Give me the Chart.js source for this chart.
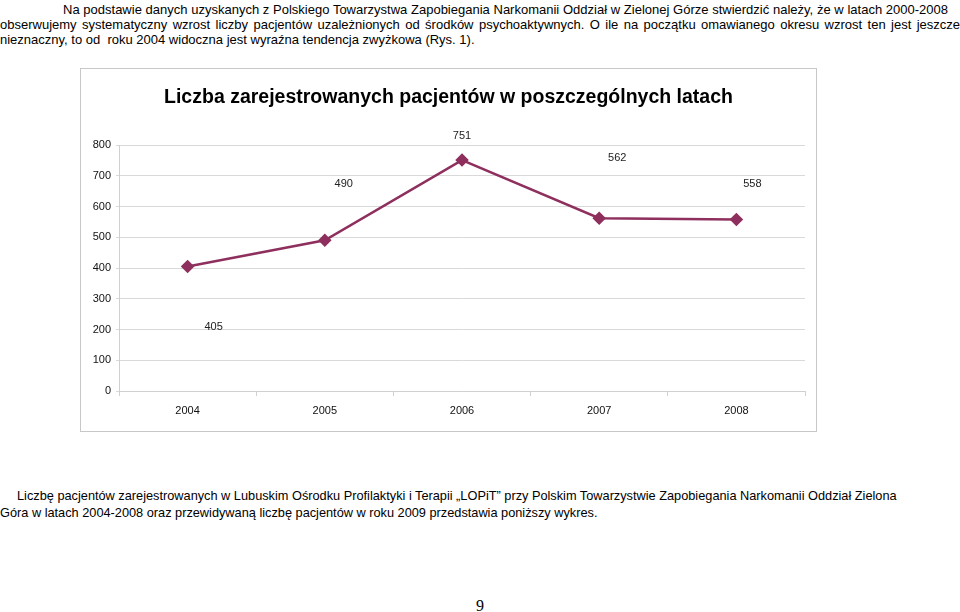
<!DOCTYPE html>
<html><head><meta charset="utf-8">
<script src="https://cdn.jsdelivr.net/npm/chart.js@4.4.0/dist/chart.umd.min.js"></script>
<style>
html,body{margin:0;padding:0;background:#fff;width:960px;height:612px;overflow:hidden;position:relative;}
.t{position:absolute;font-family:"Liberation Sans",Arial,sans-serif;font-size:13px;color:#000;white-space:nowrap;line-height:15px;}
.b{font-size:12.75px;}
.j{text-align:justify;text-align-last:justify;white-space:normal;}
#box{position:absolute;left:80px;top:68px;width:735px;height:362px;border:1px solid #c8c8c8;}
#pg{position:absolute;left:0;width:960px;top:597px;text-align:center;font-family:"Liberation Serif",serif;font-size:16px;}
</style></head><body>
<div class="t j" style="left:63px;top:2px;width:885px">Na podstawie danych uzyskanych z Polskiego Towarzystwa Zapobiegania Narkomanii Oddział w Zielonej Górze stwierdzić należy, że w latach 2000-2008</div>
<div class="t j" style="left:0px;top:17px;width:960px">obserwujemy systematyczny wzrost liczby pacjentów uzależnionych od środków psychoaktywnych. O ile na początku omawianego okresu wzrost ten jest jeszcze</div>
<div class="t" style="left:0px;top:32px;">nieznaczny, to od&nbsp; roku 2004 widoczna jest wyraźna tendencja zwyżkowa (Rys. 1).</div>
<div id="box"><canvas id="c" width="735" height="362"></canvas></div>
<div class="t b" style="left:17px;top:488px;">Liczbę pacjentów zarejestrowanych w Lubuskim Ośrodku Profilaktyki i Terapii „LOPiT” przy Polskim Towarzystwie Zapobiegania Narkomanii Oddział Zielona</div>
<div class="t b" style="left:0px;top:505px;">Góra w latach 2004-2008 oraz przewidywaną liczbę pacjentów w roku 2009 przedstawia poniższy wykres.</div>
<div id="pg">9</div>
<script>
const chartTitle = 'Liczba zarejestrowanych pacjentów w poszczególnych latach';
const years = ['2004', '2005', '2006', '2007', '2008'];
const patients = [405, 490, 751, 562, 558];
const yMin = 0;
const yMax = 800;
const yStep = 100;

const lineColor = '#8E2F5E';
const valueLabels = {
  id: 'valueLabels',
  afterDatasetsDraw(chart, args, opts) {
    const ctx = chart.ctx;
    const meta = chart.getDatasetMeta(0);
    ctx.save();
    ctx.font = '11px "Liberation Sans", Arial, sans-serif';
    ctx.fillStyle = '#222';
    ctx.textAlign = 'center';
    ctx.textBaseline = 'middle';
    meta.data.forEach((pt, i) => {
      const off = opts.offsets[i];
      ctx.fillText(String(chart.data.datasets[0].data[i]), pt.x + off[0], pt.y + off[1]);
    });
    ctx.restore();
  }
};

new Chart(document.getElementById('c'), {
  type: 'line',
  data: {
    labels: years,
    datasets: [{
      data: patients,
      borderColor: lineColor,
      backgroundColor: lineColor,
      borderWidth: 2.5,
      pointStyle: 'rectRot',
      pointRadius: 5,
      pointHoverRadius: 5,
      pointBackgroundColor: lineColor,
      pointBorderColor: lineColor,
      tension: 0,
      fill: false
    }]
  },
  options: {
    responsive: false,
    animation: false,
    devicePixelRatio: 1,
    layout: { padding: { left: 11, right: 11, top: 0, bottom: 0 } },
    plugins: {
      legend: { display: false },
      tooltip: { enabled: false },
      title: {
        display: true,
        text: chartTitle,
        color: '#000',
        font: { family: '"Liberation Sans", Arial, sans-serif', size: 19.5, weight: 'bold', lineHeight: 1.2 },
        padding: { top: 16.6, bottom: 36 }
      },
      valueLabels: { offsets: [[26, 61], [19, -56], [0, -24], [18, -60], [16, -35]] }
    },
    scales: {
      x: {
        offset: true,
        afterFit(s) { s.height = 40; },
        grid: { drawOnChartArea: false, drawTicks: true, tickLength: 5, color: '#d0d0d0', offset: true },
        border: { display: true, color: '#d0d0d0' },
        ticks: { color: '#111', padding: 8, font: { family: '"Liberation Sans", Arial, sans-serif', size: 11 } }
      },
      y: {
        min: yMin,
        max: yMax,
        afterFit(s) { s.width = 27; },
        ticks: { stepSize: yStep, color: '#111', padding: 5, font: { family: '"Liberation Sans", Arial, sans-serif', size: 11 } },
        grid: { color: '#d9d9d9', tickLength: 3, drawTicks: true },
        border: { display: true, color: '#d0d0d0' }
      }
    }
  },
  plugins: [valueLabels]
});
</script>
</body></html>
